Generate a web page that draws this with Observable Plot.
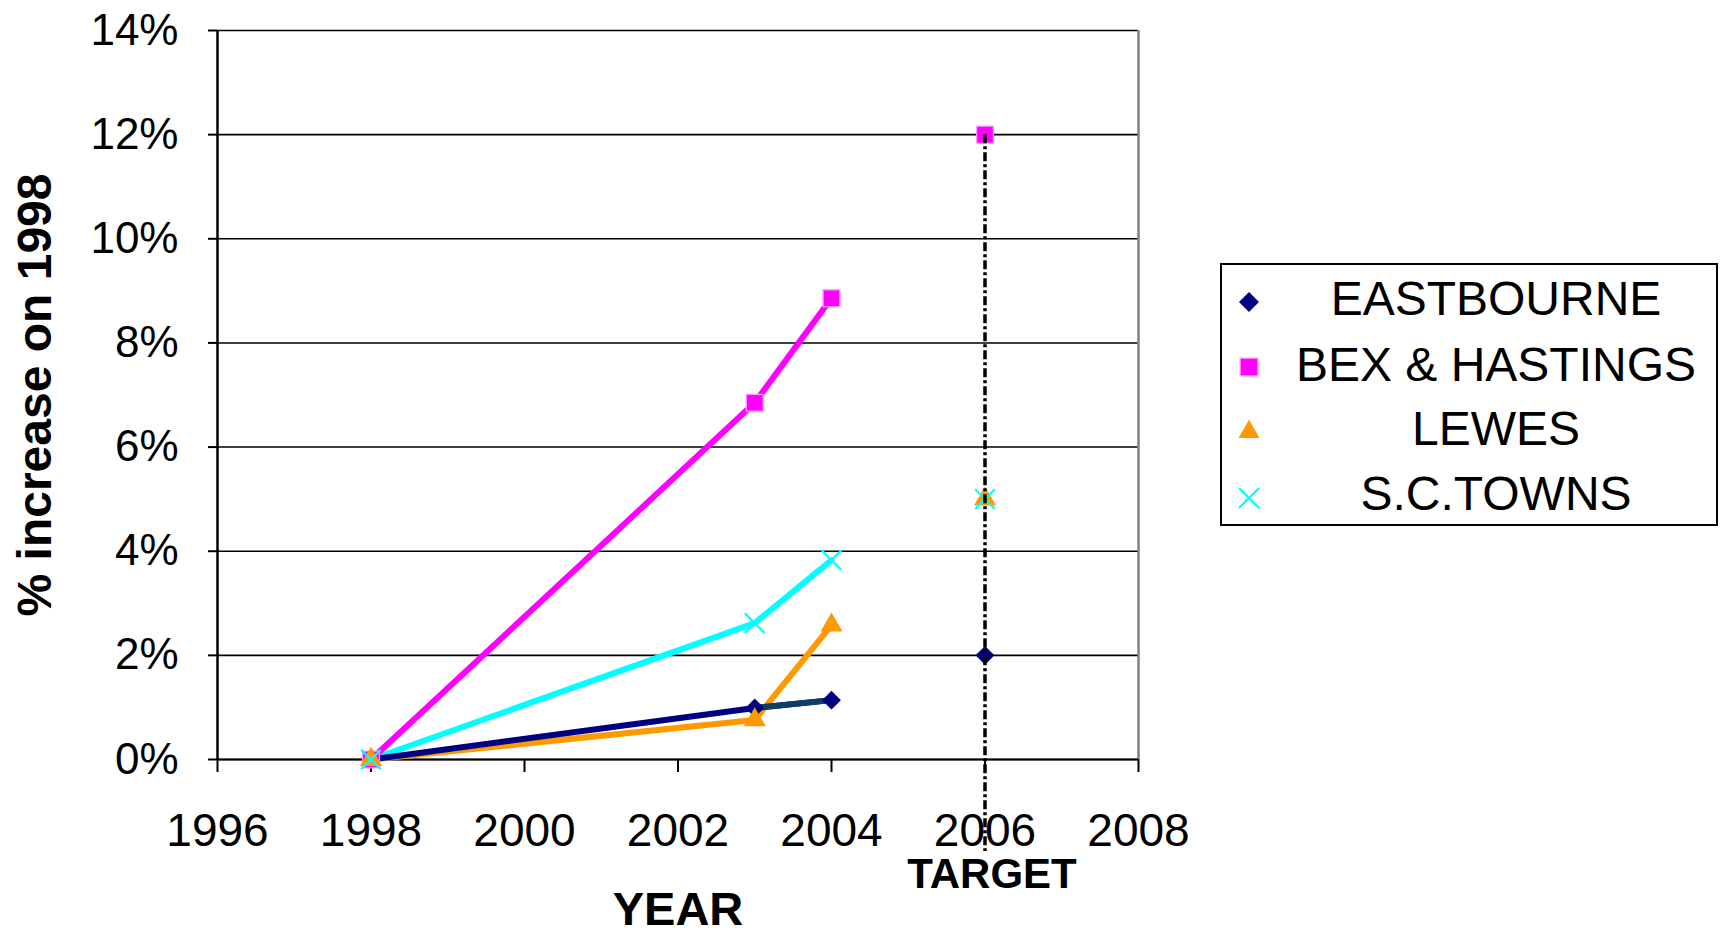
<!DOCTYPE html>
<html>
<head>
<meta charset="utf-8">
<script src="https://cdn.jsdelivr.net/npm/d3@7"></script>
<script src="https://cdn.jsdelivr.net/npm/@observablehq/plot@0.6"></script>
<style>
  html, body { margin: 0; padding: 0; background: #fff; }
  body { width: 1720px; height: 936px; position: relative; overflow: hidden; font-family: "Liberation Sans", Arial, sans-serif; }
  #chart { position: absolute; left: 0; top: 0; }
  #legend { position: absolute; left: 1220px; top: 263px; width: 494px; height: 259px; border: 2px solid #000; background: #fff; }
  .row { position: absolute; left: 0; width: 494px; height: 60px; }
  .row svg { position: absolute; left: 9px; }
  .row span { position: absolute; left: 54px; right: 0; top: 0; line-height: 60px; text-align: center; font-size: 48px; color: #000; white-space: nowrap; }
</style>
</head>
<body>
<div id="chart"></div>
<div id="legend"></div>
<script>
// ---- data ----
const years = [1998, 2003, 2004];
const eastbourne = [0, 0.0099, 0.0114];
const bexHastings = [0, 0.0685, 0.0886];
const lewes = [0, 0.0076, 0.0258];
const scTowns = [0, 0.0262, 0.0383];
const seriesNames = ["EASTBOURNE", "BEX & HASTINGS", "LEWES", "S.C.TOWNS"];
const seriesColors = ["#000080", "#FF00FF", "#FF9900", "#00FFFF"];
const seriesSymbols = ["diamond2", "square", "triangle", "times"];
const targetYear = 2006;
const targetValues = [0.02, 0.12, 0.05, 0.05];
const targetLabel = "TARGET";
const xTicks = [1996, 1998, 2000, 2002, 2004, 2006, 2008];
const xTickLabels = ["1996", "1998", "2000", "2002", "2004", "2006", "2008"];
const yTicks = [0, 0.02, 0.04, 0.06, 0.08, 0.10, 0.12, 0.14];
const yTickLabels = ["0%", "2%", "4%", "6%", "8%", "10%", "12%", "14%"];
const xTitle = "YEAR";
const yTitle = "% increase on 1998";
const eastbourneLateColor = "#0B3F66";

const seriesValues = [eastbourne, bexHastings, lewes, scTowns];
const rows = [];
seriesNames.forEach((name, i) => {
  years.forEach((yr, j) => rows.push({series: name, year: yr, value: seriesValues[i][j]}));
});
const targetRows = seriesNames.map((name, i) => ({series: name, year: targetYear, value: targetValues[i]}));
const drawOrder = ["LEWES", "S.C.TOWNS", "BEX & HASTINGS", "EASTBOURNE"];
const lineRows = drawOrder.flatMap(n => rows.filter(r => r.series === n));

const symbolSize = {"EASTBOURNE": 8.5, "BEX & HASTINGS": 9.5, "LEWES": 8.2, "S.C.TOWNS": 9};

function dotMarks(data) {
  return seriesNames.map((name, i) => {
    const d = data.filter(r => r.series === name);
    if (seriesSymbols[i] === "times") {
      return Plot.dot(d, {x: "year", y: "value", symbol: seriesSymbols[i], r: symbolSize[name], stroke: seriesColors[i], strokeWidth: 2.2});
    }
    return Plot.dot(d, {x: "year", y: "value", symbol: seriesSymbols[i], r: symbolSize[name], fill: seriesColors[i],
      stroke: name === "BEX & HASTINGS" ? "#FF99FF" : "none", strokeWidth: 1.3});
  });
}

const chart = Plot.plot({
  width: 1720,
  height: 936,
  marginLeft: 217,
  marginRight: 582,
  marginTop: 30,
  marginBottom: 177,
  style: {fontFamily: "'Liberation Sans', Arial, sans-serif", background: "#fff", color: "#000", overflow: "visible"},
  x: {domain: [1996, 2008]},
  y: {domain: [0, 0.14]},
  color: {domain: seriesNames, range: seriesColors},
  marks: [
    Plot.gridY(yTicks, {stroke: "#000", strokeOpacity: 1, strokeWidth: 1.6}),
    Plot.ruleX([2008], {y1: 0, y2: 0.14, stroke: "#808080", strokeWidth: 2.5}),
    Plot.ruleX([1996], {y1: 0, y2: 0.14, stroke: "#000", strokeWidth: 2.5}),
    Plot.ruleY([0], {stroke: "#000", strokeWidth: 2}),
    Plot.axisY({ticks: yTicks, tickFormat: d => yTickLabels[yTicks.indexOf(d)], tickSize: 9, tickPadding: 30, fontSize: 44, strokeWidth: 2, label: null}),
    Plot.axisX({ticks: xTicks, tickFormat: d => xTickLabels[xTicks.indexOf(d)], tickSize: 13, tickPadding: 41, fontSize: 46, strokeWidth: 2, label: null}),
    Plot.line(lineRows, {x: "year", y: "value", z: "series", stroke: "series", strokeWidth: 6, strokeLinejoin: "round"}),
    Plot.link([{x1: years[1], y1: eastbourne[1], x2: years[2], y2: eastbourne[2]}], {x1: "x1", y1: "y1", x2: "x2", y2: "y2", stroke: eastbourneLateColor, strokeWidth: 6}),
    ...dotMarks(rows),
    ...dotMarks(targetRows),
    Plot.ruleX([targetYear], {y1: d3.max(targetValues), y2: 0, insetBottom: -92, stroke: "#000", strokeWidth: 3.5, strokeDasharray: "9,3,3,3"}),
    Plot.text([targetLabel], {x: targetYear, y: 0, dx: 7, dy: 115, text: d => d, fontSize: 42, fontWeight: "bold", lineAnchor: "middle"}),
    Plot.text([xTitle], {frameAnchor: "bottom", dy: 150, text: d => d, fontSize: 47, fontWeight: "bold", lineAnchor: "middle"}),
    Plot.text([yTitle], {frameAnchor: "left", dx: -182, rotate: -90, text: d => d, fontSize: 48, fontWeight: "bold", textAnchor: "middle", lineAnchor: "middle"})
  ]
});
document.getElementById("chart").appendChild(chart);

// legend
const legend = document.getElementById("legend");
const markerCenters = [37, 102, 167, 233];
const textCenters = [34, 100, 164, 229];
const legendSymbolSize = {"EASTBOURNE": 9, "BEX & HASTINGS": 10, "LEWES": 7.8, "S.C.TOWNS": 9.2};
seriesNames.forEach((name, i) => {
  const row = document.createElement("div");
  row.className = "row";
  row.style.top = (textCenters[i] - 30) + "px";
  const sym = {"diamond2": d3.symbolDiamond2, "square": d3.symbolSquare, "triangle": d3.symbolTriangle, "times": d3.symbolTimes}[seriesSymbols[i]];
  const r = legendSymbolSize[name];
  const path = d3.symbol(sym, Math.PI * r * r)();
  const isStroke = seriesSymbols[i] === "times";
  const svg = d3.create("svg").attr("width", 36).attr("height", 36)
    .style("top", (markerCenters[i] - textCenters[i] + 30 - 18) + "px");
  svg.append("path").attr("transform", "translate(18,18)").attr("d", path)
    .attr("fill", isStroke ? "none" : seriesColors[i])
    .attr("stroke", isStroke ? seriesColors[i] : (name === "BEX & HASTINGS" ? "#FF99FF" : "none"))
    .attr("stroke-width", isStroke ? 2.2 : 1.3);
  row.appendChild(svg.node());
  const span = document.createElement("span");
  span.textContent = name;
  row.appendChild(span);
  legend.appendChild(row);
});
</script>
</body>
</html>
